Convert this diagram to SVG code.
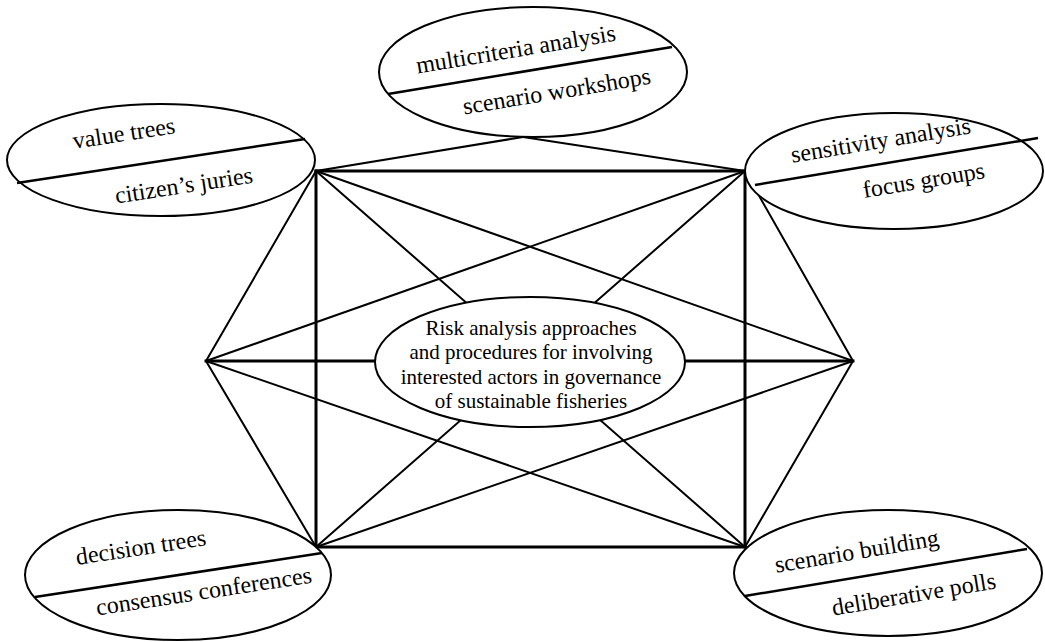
<svg xmlns="http://www.w3.org/2000/svg" width="1045" height="642" viewBox="0 0 1045 642">
  <style>
    .bg { fill: #ffffff; }
    .edge { stroke: #000; stroke-width: 2; fill: none; stroke-linecap: round; }
    .frame { stroke: #000; stroke-width: 3; fill: none; stroke-linecap: square; }
    .oval { fill: #ffffff; stroke: #000; stroke-width: 2; }
    .split { stroke: #000; stroke-width: 2.5; }
  </style>
  <rect class="bg" x="0" y="0" width="1045" height="642"/>

  <!-- connectors -->
  <g id="connectors">
    <!-- outer rectangle and horizontal axis -->
    <line class="frame" x1="316" y1="171" x2="745" y2="171"/>
    <line class="frame" x1="316" y1="171" x2="316" y2="547"/>
    <line class="frame" x1="745" y1="171" x2="745" y2="547"/>
    <line class="frame" x1="316" y1="547" x2="745" y2="547"/>
    <line class="frame" x1="206" y1="361" x2="853" y2="361"/>
    <!-- links to the top ellipse -->
    <line class="edge" x1="316" y1="171" x2="523" y2="137"/>
    <line class="edge" x1="523" y1="137" x2="745" y2="171"/>
    <!-- side points -->
    <line class="edge" x1="206" y1="361" x2="316" y2="171"/>
    <line class="edge" x1="206" y1="361" x2="316" y2="547"/>
    <line class="edge" x1="206" y1="361" x2="745" y2="171"/>
    <line class="edge" x1="206" y1="361" x2="745" y2="547"/>
    <line class="edge" x1="853" y1="361" x2="745" y2="171"/>
    <line class="edge" x1="853" y1="361" x2="745" y2="547"/>
    <line class="edge" x1="853" y1="361" x2="316" y2="171"/>
    <line class="edge" x1="853" y1="361" x2="316" y2="547"/>
    <!-- diagonals through the centre -->
    <line class="edge" x1="316" y1="171" x2="745" y2="547"/>
    <line class="edge" x1="745" y1="171" x2="316" y2="547"/>
  </g>

  <g font-family="'Liberation Serif', 'Times New Roman', serif" font-size="24" fill="#000" text-anchor="middle">
    <!-- top ellipse -->
    <g id="node-top">
      <ellipse class="oval" cx="533" cy="72" rx="154" ry="65"/>
      <line class="split" x1="388" y1="94" x2="672" y2="47"/>
      <text transform="translate(517,57) rotate(-9.4)">multicriteria analysis</text>
      <text transform="translate(558,99) rotate(-9.4)">scenario workshops</text>
    </g>

    <!-- upper left ellipse -->
    <g id="node-upper-left">
      <ellipse class="oval" cx="161" cy="160" rx="154" ry="56"/>
      <line class="split" x1="17" y1="183" x2="305" y2="139"/>
      <text transform="translate(125,141) rotate(-8.7)">value trees</text>
      <text transform="translate(185,193) rotate(-8.7)">citizen’s juries</text>
    </g>

    <!-- upper right ellipse -->
    <g id="node-upper-right">
      <ellipse class="oval" cx="894" cy="171" rx="149" ry="58"/>
      <line class="split" x1="755" y1="185" x2="1038" y2="138"/>
      <text transform="translate(882,148) rotate(-9.4)">sensitivity analysis</text>
      <text transform="translate(925,188) rotate(-9.4)">focus groups</text>
    </g>

    <!-- lower left ellipse -->
    <g id="node-lower-left">
      <ellipse class="oval" cx="178" cy="575" rx="153" ry="65"/>
      <line class="split" x1="35" y1="597" x2="322" y2="553"/>
      <text transform="translate(142,555) rotate(-8.7)">decision trees</text>
      <text transform="translate(205,599) rotate(-8.7)">consensus conferences</text>
    </g>

    <!-- lower right ellipse -->
    <g id="node-lower-right">
      <ellipse class="oval" cx="888" cy="573" rx="154" ry="63"/>
      <line class="split" x1="745" y1="596" x2="1027" y2="549"/>
      <text transform="translate(858,559) rotate(-9.5)">scenario building</text>
      <text transform="translate(915,602) rotate(-9.5)">deliberative polls</text>
    </g>

    <!-- central ellipse -->
    <g id="node-center" font-size="21">
      <ellipse class="oval" cx="530" cy="362" rx="155" ry="65"/>
      <text x="531" y="335">Risk analysis approaches</text>
      <text x="531" y="359">and procedures for involving</text>
      <text x="531" y="384">interested actors in governance</text>
      <text x="531" y="408">of sustainable fisheries</text>
    </g>
  </g>
</svg>
